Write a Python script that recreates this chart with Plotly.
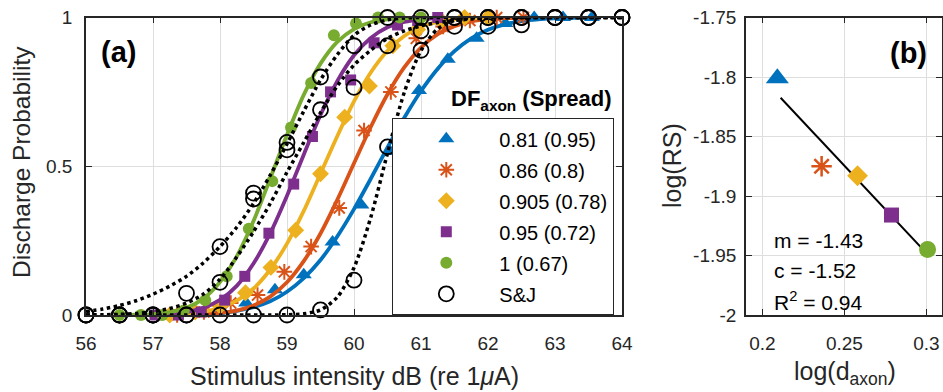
import plotly.graph_objects as go

W, H = 943, 392
def px(x):
    return x / W
def py(y):
    return 1 - y / H

FONT = "Liberation Sans, Arial, sans-serif"
TXT = "#262626"
C_BLUE, C_ORANGE, C_YELLOW, C_PURPLE, C_GREEN = "#0072BD", "#D95319", "#EDB120", "#7E2F8E", "#77AC30"

# ---------------- panel (a) data ----------------
labels = ["0.81 (0.95)", "0.86 (0.8)", "0.905 (0.78)", "0.95 (0.72)", "1 (0.67)"]

# simulated discharge probabilities (markers)
blue_x = [57.96, 58.39, 58.82, 59.25, 59.68, 60.11, 60.54, 60.97, 61.40, 61.83, 62.26, 62.69, 63.12, 63.55]
blue_p = [0.01, 0.04, 0.085, 0.135, 0.245, 0.37, 0.55, 0.755, 0.86, 0.93, 0.98, 1, 1, 1]
orange_x = [57.36, 57.76, 58.16, 58.56, 58.96, 59.36, 59.78, 60.15, 60.55, 60.93, 61.33, 61.73, 62.13, 62.53]
orange_p = [0, 0.01, 0.04, 0.067, 0.145, 0.23, 0.36, 0.62, 0.75, 0.93, 0.97, 0.99, 1, 1]
yellow_x = [57.25, 57.63, 58.0, 58.38, 58.76, 59.13, 59.5, 59.86, 60.23, 60.58, 60.95, 61.3, 61.65, 62.0]
yellow_p = [0, 0.01, 0.03, 0.075, 0.16, 0.285, 0.475, 0.665, 0.77, 0.905, 0.96, 0.99, 1, 1]
purple_x = [57.03, 57.38, 57.72, 58.07, 58.37, 58.73, 59.1, 59.38, 59.65, 59.95, 60.3, 60.65, 60.95, 61.25]
purple_p = [0, 0, 0.01, 0.05, 0.13, 0.275, 0.44, 0.6, 0.75, 0.79, 0.915, 0.975, 0.99, 1]
green_x = [56.5, 56.82, 57.14, 57.46, 57.78, 58.1, 58.43, 58.78, 59.06, 59.36, 59.7, 60.03, 60.36, 60.68, 61.0]
green_p = [0, 0, 0, 0.015, 0.05, 0.13, 0.29, 0.45, 0.63, 0.78, 0.94, 0.98, 1, 1, 1]

# fitted curves (at 0.25 dB steps)
blue_fx = [58.0, 58.25, 58.5, 58.75, 59.0, 59.25, 59.5, 59.75, 60.0, 60.25, 60.5, 60.75, 61.0, 61.25, 61.5, 61.75, 62.0, 62.25, 62.5, 62.75, 63.0, 63.25, 63.5]
blue_fp = [0.007, 0.014, 0.026, 0.046, 0.078, 0.124, 0.185, 0.264, 0.356, 0.458, 0.563, 0.663, 0.753, 0.828, 0.887, 0.930, 0.959, 0.977, 0.988, 0.994, 0.997, 0.999, 1.0]
orange_fx = [57.5, 57.75, 58.0, 58.25, 58.5, 58.75, 59.0, 59.25, 59.5, 59.75, 60.0, 60.25, 60.5, 60.75, 61.0, 61.25, 61.5, 61.75, 62.0, 62.25, 62.5]
orange_fp = [0.001, 0.003, 0.007, 0.015, 0.032, 0.062, 0.110, 0.181, 0.274, 0.387, 0.510, 0.632, 0.742, 0.832, 0.899, 0.944, 0.971, 0.987, 0.994, 0.998, 0.999]
yellow_fx = [57.25, 57.5, 57.75, 58.0, 58.25, 58.5, 58.75, 59.0, 59.25, 59.5, 59.75, 60.0, 60.25, 60.5, 60.75, 61.0, 61.25, 61.5, 61.75, 62.0]
yellow_fp = [0.002, 0.004, 0.011, 0.024, 0.048, 0.089, 0.153, 0.240, 0.350, 0.475, 0.601, 0.718, 0.815, 0.888, 0.938, 0.969, 0.985, 0.994, 0.998, 0.999]
purple_fx = [57.0, 57.25, 57.5, 57.75, 58.0, 58.25, 58.5, 58.75, 59.0, 59.25, 59.5, 59.75, 60.0, 60.25, 60.5, 60.75, 61.0, 61.25]
purple_fp = [0.001, 0.004, 0.010, 0.024, 0.051, 0.098, 0.173, 0.275, 0.401, 0.539, 0.672, 0.786, 0.873, 0.931, 0.967, 0.985, 0.994, 0.998]
green_fx = [56.5, 56.75, 57.0, 57.25, 57.5, 57.75, 58.0, 58.25, 58.5, 58.75, 59.0, 59.25, 59.5, 59.75, 60.0, 60.25, 60.5, 60.75, 61.0]
green_fp = [0.0, 0.001, 0.003, 0.010, 0.024, 0.055, 0.111, 0.197, 0.316, 0.459, 0.606, 0.740, 0.845, 0.918, 0.961, 0.984, 0.994, 0.998, 0.999]

# S&J measured data (three fibres) at 0.5 dB steps
sj_x = [56.0, 56.5, 57.0, 57.5, 58.0, 58.5, 59.0, 59.5, 60.0, 60.5, 61.0, 61.5, 62.0, 62.5, 63.0, 63.5, 64.0]
sj_a = [0, 0, 0, 0.073, 0.23, 0.41, 0.58, 0.80, 0.905, 1, 1, 1, 1, 1, 1, 1, 1]
sj_b = [0, 0, 0, 0, 0.11, 0.39, 0.555, 0.69, 0.765, 0.905, 0.89, 0.97, 0.97, 0.975, 1, 1, 1]
sj_c = [0, 0, 0, 0, 0, 0, 0, 0.017, 0.117, 0.565, 0.955, 1, 1, 1, 1, 1, 1]

# S&J fitted curves
sjf_x = [56.0, 56.25, 56.5, 56.75, 57.0, 57.25, 57.5, 57.75, 58.0, 58.25, 58.5, 58.75, 59.0, 59.25, 59.5, 59.75,
         60.0, 60.25, 60.5, 60.75, 61.0, 61.25, 61.5, 61.75, 62.0, 62.25, 62.5, 63.0, 63.5, 64.0]
sjf_a = [0.012, 0.02, 0.032, 0.048, 0.07, 0.097, 0.13, 0.175, 0.23, 0.295, 0.375, 0.47, 0.575, 0.685, 0.79, 0.875,
         0.94, 0.975, 0.992, 0.998, 1, 1, 1, 1, 1, 1, 1, 1, 1, 1]
sjf_b = [0, 0.001, 0.002, 0.005, 0.011, 0.022, 0.04, 0.07, 0.12, 0.195, 0.28, 0.375, 0.48, 0.58, 0.68, 0.77,
         0.84, 0.89, 0.93, 0.955, 0.972, 0.983, 0.99, 0.995, 0.998, 1, 1, 1, 1, 1]
sjf_c = [0, 0, 0, 0, 0, 0, 0, 0, 0, 0, 0, 0, 0.001, 0.004, 0.017, 0.06,
         0.159, 0.328, 0.544, 0.748, 0.889, 0.962, 0.990, 0.998, 1, 1, 1, 1, 1, 1]

# ---------------- panel (b) data ----------------
log_d = [0.2091, 0.2361, 0.258, 0.2787, 0.3007]
log_rs = [-1.801, -1.875, -1.883, -1.916, -1.945]
fit_x = [0.2111, 0.3000]
fit_y = [-1.8174, -1.948]
fit_text = ["m = -1.43", "c = -1.52", "R<sup>2</sup> = 0.94"]

x_ticks_a = [56, 57, 58, 59, 60, 61, 62, 63, 64]
y_ticks_a = [0, 0.5, 1]
y_ticklabels_a = ["0", "0.5", "1"]
x_ticks_b = [0.2, 0.25, 0.3]
x_ticklabels_b = ["0.2", "0.25", "0.3"]
y_ticks_b = [-2, -1.95, -1.9, -1.85, -1.8, -1.75]
y_ticklabels_b = ["-2", "-1.95", "-1.9", "-1.85", "-1.8", "-1.75"]

series = [
    (blue_x, blue_p, blue_fx, blue_fp, C_BLUE, dict(symbol="triangle-up", size=14, color=C_BLUE)),
    (orange_x, orange_p, orange_fx, orange_fp, C_ORANGE,
     dict(symbol="asterisk-open", size=13, color=C_ORANGE, line=dict(color=C_ORANGE, width=2))),
    (yellow_x, yellow_p, yellow_fx, yellow_fp, C_YELLOW, dict(symbol="diamond", size=13, color=C_YELLOW)),
    (purple_x, purple_p, purple_fx, purple_fp, C_PURPLE, dict(symbol="square", size=11, color=C_PURPLE)),
    (green_x, green_p, green_fx, green_fp, C_GREEN, dict(symbol="circle", size=12, color=C_GREEN)),
]

fig = go.Figure()

for i, (mx, mp, fx, fp, col, mk) in enumerate(series):
    fig.add_trace(go.Scatter(x=fx, y=fp, mode="lines", line=dict(color=col, width=3.8, shape="spline", smoothing=0.8),
                             showlegend=False, cliponaxis=False, hoverinfo="skip"))
    fig.add_trace(go.Scatter(x=mx, y=mp, mode="markers", marker=mk, name=labels[i], legendgroup=f"g{i}",
                             showlegend=True, cliponaxis=False))

for fy in (sjf_a, sjf_b, sjf_c):
    fig.add_trace(go.Scatter(x=sjf_x, y=fy, mode="lines", line=dict(color="black", width=3.5, dash="dot", shape="spline", smoothing=0.8),
                             showlegend=False, cliponaxis=False))
circ = dict(symbol="circle-open", size=15, color="black", line=dict(color="black", width=1.8))
for j, sy in enumerate((sj_a, sj_b, sj_c)):
    fig.add_trace(go.Scatter(x=sj_x, y=sy, mode="markers", marker=circ, name="S&J", legendgroup="g5",
                             showlegend=(j == 0), cliponaxis=False))

# panel (b)
b_marks = [
    dict(symbol="triangle-up", size=20, color=C_BLUE),
    dict(symbol="asterisk-open", size=17, color=C_ORANGE, line=dict(color=C_ORANGE, width=2.5)),
    dict(symbol="diamond", size=16, color=C_YELLOW),
    dict(symbol="square", size=15, color=C_PURPLE),
    dict(symbol="circle", size=17, color=C_GREEN),
]
fig.add_trace(go.Scatter(x=fit_x, y=fit_y, mode="lines", line=dict(color="black", width=2),
                         xaxis="x2", yaxis="y2", showlegend=False))
for k in range(len(log_d)):
    fig.add_trace(go.Scatter(x=[log_d[k]], y=[log_rs[k]], mode="markers", marker=b_marks[k],
                             xaxis="x2", yaxis="y2", showlegend=False, cliponaxis=False))

ax_common = dict(showline=True, linecolor=TXT, linewidth=1.6, mirror="ticks", ticks="inside", ticklen=6,
                 tickwidth=1.4, tickcolor=TXT, showgrid=True, gridcolor="#dedede", gridwidth=1, zeroline=False,
                 automargin=False, tickfont=dict(family=FONT, size=19, color=TXT))

ydom = [py(315), py(17.5)]
fig.update_layout(
    width=W, height=H, margin=dict(l=0, r=0, t=0, b=0, autoexpand=False),
    paper_bgcolor="white", plot_bgcolor="white",
    font=dict(family=FONT, color=TXT),
    xaxis=dict(domain=[px(86), px(622)], range=[56, 64], tickvals=x_ticks_a, anchor="y",
               ticklabelstandoff=10, **ax_common),
    yaxis=dict(domain=ydom, range=[0, 1], tickvals=y_ticks_a, ticktext=y_ticklabels_a, anchor="x",
               ticklabelstandoff=8, **ax_common),
    xaxis2=dict(domain=[px(746), px(942)], range=[0.19, 0.3095], tickvals=x_ticks_b, ticktext=x_ticklabels_b,
                anchor="y2", ticklabelstandoff=10, **ax_common),
    yaxis2=dict(domain=ydom, range=[-2, -1.75], tickvals=y_ticks_b, ticktext=y_ticklabels_b, anchor="x2",
                ticklabelstandoff=4, **ax_common),
    legend=dict(x=px(392), y=py(118), xanchor="left", yanchor="top", bgcolor="white", bordercolor=TXT,
                borderwidth=1.3, font=dict(family=FONT, size=20, color="black"), itemwidth=96,
                traceorder="grouped", tracegroupgap=2),
    showlegend=True,
)

ann = [
    dict(text="<b>(a)</b>", x=px(118), y=py(52), size=29),
    dict(text="<b>(b)</b>", x=px(908), y=py(53), size=29),
    dict(text="<b>DF<sub>axon</sub> (Spread)</b>", x=px(531), y=py(100), size=22),
    dict(text="Discharge Probability", x=px(22), y=py(162), size=24.5, angle=-90),
    dict(text="Stimulus intensity dB (re 1<i>μ</i>A)", x=px(354), y=py(376), size=25),
    dict(text="log(RS)", x=px(672), y=py(166), size=25, angle=-90),
    dict(text="log(d<sub>axon</sub>)", x=px(845), y=py(373), size=25),
]
for a in ann:
    fig.add_annotation(text=a["text"], x=a["x"], y=a["y"], xref="paper", yref="paper", showarrow=False,
                       xanchor="center", yanchor="middle", textangle=a.get("angle", 0),
                       font=dict(family=FONT, size=a["size"], color="black" if "<b>" in a["text"] else TXT))
for t, yy in zip(fit_text, [240, 270, 301]):
    fig.add_annotation(text=t, x=px(772), y=py(yy), xref="paper", yref="paper", showarrow=False,
                       xanchor="left", yanchor="middle", font=dict(family=FONT, size=21, color="black"))

fig.write_html("out.html", config={"displayModeBar": False},
               post_script="document.body.style.margin='0';document.body.style.overflow='hidden';")
